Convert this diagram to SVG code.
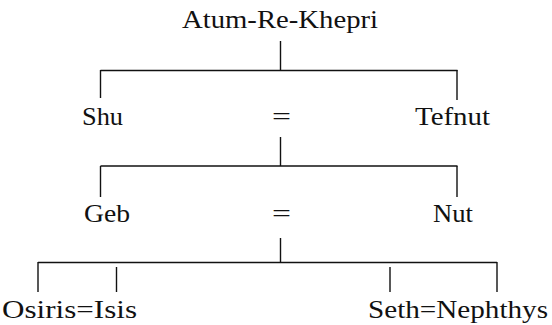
<svg xmlns="http://www.w3.org/2000/svg" width="552" height="325" viewBox="0 0 552 325">
<style>
text { font-family: "Liberation Serif", "Times New Roman", serif; font-size: 26px; fill: #111; }
text.b { font-size: 25px; }
.c line { stroke: #111; stroke-width: 1.4; fill: none; }
</style>
<rect width="552" height="325" fill="#fff"/>
<g class="c" id="connectors">
<line x1="280.5" y1="41" x2="280.5" y2="71"/>
<line x1="100.5" y1="70.5" x2="457.5" y2="70.5"/>
<line x1="100.5" y1="70" x2="100.5" y2="98"/>
<line x1="457" y1="70" x2="457" y2="100"/>
<line x1="280.5" y1="137" x2="280.5" y2="166"/>
<line x1="100.5" y1="166" x2="457.5" y2="166"/>
<line x1="100.5" y1="166" x2="100.5" y2="197"/>
<line x1="457" y1="166" x2="457" y2="197"/>
<line x1="280.5" y1="238" x2="280.5" y2="263"/>
<line x1="38" y1="262.5" x2="497" y2="262.5"/>
<line x1="38" y1="262" x2="38" y2="292"/>
<line x1="116.5" y1="267" x2="116.5" y2="292"/>
<line x1="390" y1="267" x2="390" y2="292"/>
<line x1="497" y1="262" x2="497" y2="292"/>
</g>
<g id="atum"><text x="182" y="28" textLength="196" lengthAdjust="spacingAndGlyphs">Atum-Re-Khepri</text></g>
<g id="shu"><text x="82" y="125" textLength="41" lengthAdjust="spacingAndGlyphs">Shu</text></g>
<g id="shu-tefnut-eq"><text x="272" y="125" textLength="19" lengthAdjust="spacingAndGlyphs">=</text></g>
<g id="tefnut"><text x="415" y="125" textLength="75" lengthAdjust="spacingAndGlyphs">Tefnut</text></g>
<g id="geb"><text x="84" y="222" textLength="46" lengthAdjust="spacingAndGlyphs">Geb</text></g>
<g id="geb-nut-eq"><text x="272" y="222" textLength="19" lengthAdjust="spacingAndGlyphs">=</text></g>
<g id="nut"><text x="433" y="222" textLength="40" lengthAdjust="spacingAndGlyphs">Nut</text></g>
<g id="osiris-isis"><text class="b" x="2" y="318" textLength="135" lengthAdjust="spacingAndGlyphs">Osiris=Isis</text></g>
<g id="seth-nephthys"><text class="b" x="368" y="318" textLength="180" lengthAdjust="spacingAndGlyphs">Seth=Nephthys</text></g>
</svg>
